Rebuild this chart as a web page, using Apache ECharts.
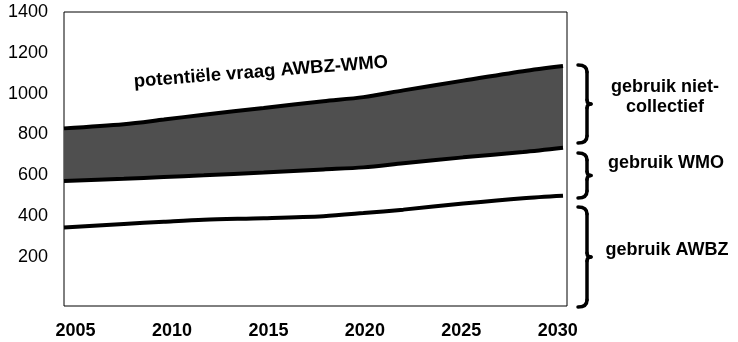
<!DOCTYPE html>
<html>
<head>
<meta charset="utf-8">
<script src="https://cdn.jsdelivr.net/npm/echarts@6/dist/echarts.min.js"></script>
<style>
html,body{margin:0;padding:0;background:#fff;}
#c{width:738px;height:342px;}
</style>
</head>
<body>
<div id="c"></div>
<script>
// ---- data ----
const years = [2005, 2008, 2010, 2012, 2015, 2018, 2020, 2022, 2025, 2028, 2030];
const potentieleVraag = [830, 850, 873, 897, 930, 963, 983, 1016, 1064, 1110, 1135];
const gebruikWMOTop  = [572, 583, 592, 600, 614, 629, 639, 659, 688, 714, 735];
const gebruikAWBZ    = [345, 362, 373, 383, 390, 400, 415, 432, 462, 488, 500];
const xTicks = [2005, 2010, 2015, 2020, 2025, 2030];
const yTicks = [200, 400, 600, 800, 1000, 1200, 1400];
const bandLabel = 'potentiële vraag AWBZ-WMO';
const sideLabels = ['gebruik niet-\ncollectief', 'gebruik WMO', 'gebruik AWBZ'];

const FONT = '"Liberation Sans", Arial, sans-serif';
// value first, year second, so stacking acts on the value dimension
const midPts = years.map((y, i) => [gebruikWMOTop[i], y]);
const diffPts = years.map((y, i) => [potentieleVraag[i] - gebruikWMOTop[i], y]);
const botPts = years.map((y, i) => [gebruikAWBZ[i], y]);

function brace(x0, y0, y1) {
  const xv = x0 + 9, xt = x0 + 13, ym = (y0 + y1) / 2, r = 7, r2 = 4;
  const st = { stroke: '#000', lineWidth: 3.5, fill: null, lineCap: 'round' };
  return [
    { type: 'bezierCurve', shape: { x1: x0, y1: y0, x2: xv, y2: y0 + r, cpx1: xv, cpy1: y0 }, style: st },
    { type: 'line', shape: { x1: xv, y1: y0 + r, x2: xv, y2: ym - r2 }, style: st },
    { type: 'bezierCurve', shape: { x1: xv, y1: ym - r2, x2: xt, y2: ym, cpx1: xv, cpy1: ym }, style: st },
    { type: 'bezierCurve', shape: { x1: xt, y1: ym, x2: xv, y2: ym + r2, cpx1: xv, cpy1: ym }, style: st },
    { type: 'line', shape: { x1: xv, y1: ym + r2, x2: xv, y2: y1 - r }, style: st },
    { type: 'bezierCurve', shape: { x1: xv, y1: y1 - r, x2: x0, y2: y1, cpx1: xv, cpy1: y1 }, style: st }
  ];
}

const chart = echarts.init(document.getElementById('c'));
const lineStyle = { color: '#000', width: 4 };
const enc = { x: 1, y: 0 };
chart.setOption({
  animation: false,
  backgroundColor: '#fff',
  grid: { left: 64, right: 171, top: 12, bottom: 36, show: true, borderColor: '#000', borderWidth: 1, backgroundColor: 'transparent' },
  xAxis: [
    { type: 'value', min: 2005, max: 2030.2, position: 'bottom',
      axisLine: { show: false }, axisTick: { show: false }, axisLabel: { show: false }, splitLine: { show: false } },
    { type: 'value', min: 2004.4, max: 2030.48, position: 'bottom',
      axisLine: { show: false }, axisTick: { show: false }, splitLine: { show: false },
      axisLabel: { customValues: xTicks, formatter: v => String(v), fontFamily: FONT, fontSize: 18, fontWeight: 'bold', color: '#000', margin: 16 } }
  ],
  yAxis: {
    type: 'value', min: -40, max: 1400,
    axisLine: { show: false }, axisTick: { show: false }, splitLine: { show: false },
    axisLabel: { customValues: yTicks, formatter: v => String(v), fontFamily: FONT, fontSize: 18, color: '#000', margin: 16 }
  },
  series: [
    { name: 'gebruik WMO', type: 'line', xAxisIndex: 0, stack: 'band', encode: enc, data: midPts, smooth: 0.3, showSymbol: false, symbol: 'none', lineStyle: lineStyle, z: 4 },
    { name: 'gebruik niet-collectief', type: 'line', xAxisIndex: 0, stack: 'band', encode: enc, data: diffPts, smooth: 0.3, showSymbol: false, symbol: 'none', lineStyle: lineStyle, areaStyle: { color: '#4f4f4f', opacity: 1 }, z: 3 },
    { name: 'gebruik AWBZ', type: 'line', xAxisIndex: 0, encode: enc, data: botPts, smooth: 0.3, showSymbol: false, symbol: 'none', lineStyle: lineStyle, z: 4 }
  ],
  graphic: [
    { type: 'text', x: 261, y: 72, rotation: 0.077,
      style: { text: bandLabel, font: 'bold 18.5px ' + FONT, fill: '#000', align: 'center', verticalAlign: 'middle' } },
    { type: 'text', x: 665, y: 97,
      style: { text: sideLabels[0], font: 'bold 18px ' + FONT, fill: '#000', align: 'center', verticalAlign: 'middle', lineHeight: 20 } },
    { type: 'text', x: 666, y: 163,
      style: { text: sideLabels[1], font: 'bold 18px ' + FONT, fill: '#000', align: 'center', verticalAlign: 'middle' } },
    { type: 'text', x: 667, y: 250,
      style: { text: sideLabels[2], font: 'bold 18px ' + FONT, fill: '#000', align: 'center', verticalAlign: 'middle' } }
  ].concat(brace(578, 65, 143), brace(578, 153, 198), brace(578, 207, 307))
});
</script>
</body>
</html>
